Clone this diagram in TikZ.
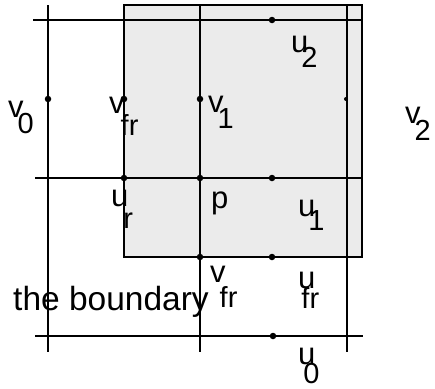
\documentclass[tikz,border=0pt]{standalone}
\usepackage{fontspec}
\setmainfont{Liberation Sans}
\newcommand\lsb[4]{#1\kern#2pt\raisebox{-#3pt}{\fontsize{29}{33}\selectfont #4}}
\begin{document}
\begin{tikzpicture}[x=1pt,y=-1pt,
  ln/.style={line width=2pt,black},
  dotn/.style={circle,fill=black,inner sep=0pt,minimum size=6.5pt},
  lab/.style={anchor=base west,inner sep=0pt,font=\fontsize{31}{35}\selectfont},
  bigl/.style={anchor=base west,inner sep=0pt,font=\fontsize{33.5}{38}\selectfont}]
\useasboundingbox (0,0) rectangle (435,388);
% shaded square
\coordinate (r1) at (124,5);
\coordinate (r2) at (362,257);
\fill[black!8] (r1) rectangle (r2);
\draw[ln] (r1) rectangle (r2);
% grid end points
\coordinate (a1) at (48,5);   \coordinate (a2) at (48,352);
\coordinate (b1) at (200,5);  \coordinate (b2) at (200,352);
\coordinate (c1) at (347,5);  \coordinate (c2) at (347,352);
\coordinate (h1) at (33,20);  \coordinate (h2) at (362,20);
\coordinate (k1) at (35,178); \coordinate (k2) at (362,178);
\coordinate (m1) at (35,336); \coordinate (m2) at (363,336);
\draw[ln] (a1) -- (a2);
\draw[ln] (b1) -- (b2);
\draw[ln] (c1) -- (c2);
\draw[ln] (h1) -- (h2);
\draw[ln] (k1) -- (k2);
\draw[ln] (m1) -- (m2);
% dots
\node[dotn] (d1) at (48,99) {};
\node[dotn] (d2) at (124,99) {};
\node[dotn] (d3) at (200,99) {};
\node[dotn] (d4) at (272,20) {};
\node[dotn,minimum size=4pt] (d5) at (346,99) {};
\node[dotn] (d6) at (124,178) {};
\node[dotn] (d7) at (200,178) {};
\node[dotn] (d8) at (272,178) {};
\node[dotn] (d9) at (200,257) {};
\node[dotn] (d10) at (272,257) {};
\node[dotn] (d11) at (273,336) {};
% labels
\node[lab] (v0) at (8,117) {\lsb{v}{-6}{16}{0}};
\node[lab] (vfa) at (109,113) {\lsb{v}{-4}{22}{fr}};
\node[lab] (v1) at (208,112) {\lsb{v}{-6}{16}{1}};
\node[lab] (u2) at (291,52) {\lsb{u}{-7}{15}{2}};
\node[lab] (v2) at (405,123) {\lsb{v}{-6}{17}{2}};
\node[lab] (ur) at (111,206) {\lsb{u}{-5}{22}{r}};
\node[lab] (p) at (211,208) {p};
\node[lab] (u1) at (298,216) {\lsb{u}{-7}{14}{1}};
\node[lab] (vfb) at (210,282) {\lsb{v}{-6}{25}{fr}};
\node[lab] (ufb) at (298,288) {\lsb{u}{-14}{20}{fr}};
\node[lab] (u0) at (298,364) {\lsb{u}{-12}{19}{0}};
\node[bigl] (tb) at (13,310) {the boundary};
\end{tikzpicture}
\end{document}
